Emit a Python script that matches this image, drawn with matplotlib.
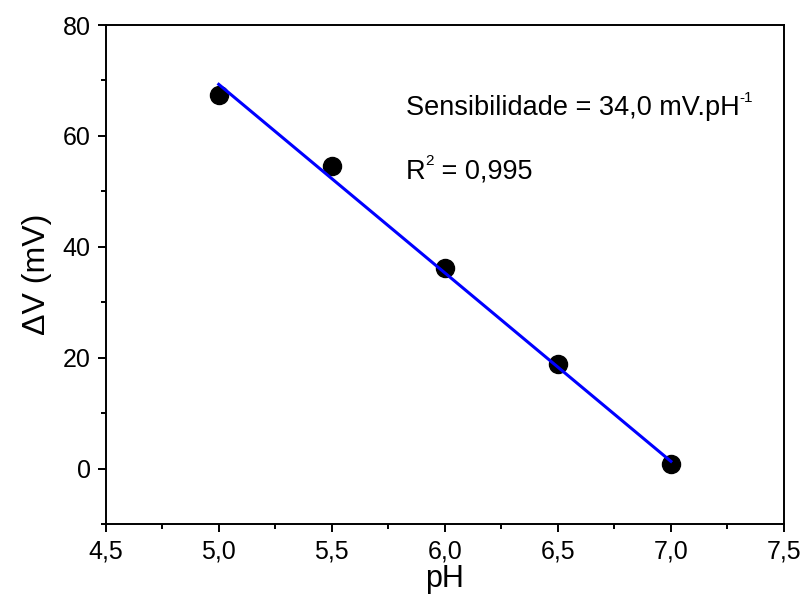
import matplotlib
matplotlib.use("Agg")
import matplotlib.pyplot as plt
from matplotlib.ticker import MultipleLocator, FuncFormatter
from matplotlib.transforms import offset_copy

plt.rcParams['font.family'] = ['Liberation Sans', 'DejaVu Sans']

ph = [5.0, 5.5, 6.0, 6.5, 7.0]
dv = [67.4, 54.6, 36.1, 18.9, 0.9]
fit_x = [5.0, 7.0]
fit_y = [69.3, 1.3]

fig = plt.figure(figsize=(8.03, 6.03), dpi=100)
ax = fig.add_axes([0.1316, 0.131, 0.8447, 0.8275])

ax.plot(ph, dv, 'o', color='black', markersize=13, zorder=2)
ax.plot(fit_x, fit_y, '-', color='#0000ff', linewidth=2.2, zorder=3)

ax.set_xlim(4.5, 7.5)
ax.set_ylim(-10, 80)
ax.xaxis.set_major_locator(MultipleLocator(0.5))
ax.xaxis.set_minor_locator(MultipleLocator(0.25))
ax.yaxis.set_major_locator(MultipleLocator(20))
ax.yaxis.set_minor_locator(MultipleLocator(10))
ax.xaxis.set_major_formatter(FuncFormatter(lambda v, p: f"{v:.1f}".replace('.', ',')))
ax.yaxis.set_major_formatter(FuncFormatter(lambda v, p: f"{v:.0f}"))

for s in ax.spines.values():
    s.set_linewidth(1.4)
ax.tick_params(which='major', direction='out', length=5.8, width=1.4, labelsize=18, pad=5)
ax.tick_params(which='minor', direction='out', length=3.3, width=1.4)
ax.tick_params(top=False, right=False, which='both')

ax.set_xlabel('pH', fontsize=22, labelpad=1)
ax.set_ylabel('ΔV (mV)', fontsize=23, labelpad=8)

t1 = ax.text(5.829, 63.8, 'Sensibilidade = 34,0 mV.pH', fontsize=19.5, va='baseline', ha='left')
t2 = ax.text(5.829, 52.3, 'R', fontsize=19.5, va='baseline', ha='left')
fig.canvas.draw()
r = fig.canvas.get_renderer()
for t, sup, rest in [(t1, '-1', ''), (t2, '2', ' = 0,995')]:
    bb = t.get_window_extent(r)
    x0 = ax.transData.transform(t.get_position())[0]
    tr = offset_copy(ax.transData, fig=fig, x=(bb.x1 - x0) * 72 / fig.dpi - 0.5,
                     y=9.5, units='points')
    s = ax.text(t.get_position()[0], t.get_position()[1], sup, fontsize=11, va='baseline', ha='left', transform=tr)
    if rest:
        fig.canvas.draw()
        sb = s.get_window_extent(r)
        tr2 = offset_copy(ax.transData, fig=fig, x=(sb.x1 - x0) * 72 / fig.dpi,
                          y=0, units='points')
        ax.text(t.get_position()[0], t.get_position()[1], rest, fontsize=19.5, va='baseline', ha='left', transform=tr2)

fig.savefig('out.png', dpi=100)
